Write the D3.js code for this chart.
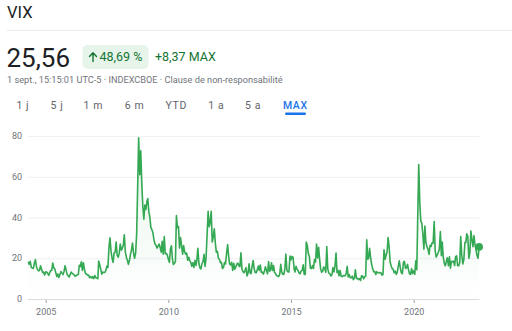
<!DOCTYPE html>
<html><head><meta charset="utf-8">
<script src="https://cdn.jsdelivr.net/npm/d3@7"></script>
<style>
html,body{margin:0;padding:0;background:#fff;}
svg{display:block;font-family:Roboto,"Noto Sans",Arial,sans-serif;}
</style></head>
<body>
<svg id="c" width="512" height="331"></svg>
<script>
// Semi-monthly closes (1st and 16th of each month)
const vix2004 = [18.3,17.0,18.5,15.5,15.2,15.0,17.5,19.3,16.0,14.5,13.8,14.0,16.3,14.6,13.0,13.2,11.8]; // from Apr 16
const vix2005 = [13.3,13.2,12.5,11.6,12.9,14.0,14.0,17.7,15.3,14.8,12.8,11.0,12.3,10.5,12.0,13.5,12.7,12.0,13.5,16.3,14.2,12.0,11.5,10.8];
const vix2006 = [12.1,13.2,12.5,12.2,11.8,11.2,11.5,11.9,12.0,16.5,16.0,18.3,14.0,17.8,14.5,12.5,12.3,11.7,11.8,10.5,11.0,10.3,11.0,10.0];
const vix2007 = [11.5,10.5,10.4,10.0,18.6,16.8,14.6,12.2,13.2,13.0,13.1,14.0,16.2,15.5,25.5,30.0,23.4,20.0,18.0,22.5,23.0,28.0,21.5,20.5];
const vix2008 = [22.5,27.0,24.0,25.0,26.5,31.5,23.0,20.5,19.0,17.0,19.0,22.0,24.0,27.5,22.5,20.0,22.6,32.1,55.0,79.1,61.0,72.7,57.0,46.0];
const vix2009 = [39.2,46.1,44.0,48.0,49.3,43.0,40.0,35.0,34.0,32.6,29.0,27.0,26.4,25.0,25.9,27.0,25.3,23.0,28.3,22.0,30.7,22.2,22.4,21.6];
const vix2010 = [19.5,18.0,24.6,26.1,20.0,16.9,17.5,18.4,40.9,35.0,35.5,25.0,30.1,26.3,22.0,26.2,23.0,22.0,22.5,19.0,20.5,18.8,18.0,16.1];
const vix2011 = [17.8,15.5,19.0,16.5,19.0,24.9,17.4,15.3,14.8,17.4,18.3,21.9,16.0,20.0,32.0,43.0,35.5,38.0,43.0,28.0,30.5,34.5,27.5,23.0];
const vix2012 = [23.4,20.0,19.4,17.8,18.0,15.0,15.5,17.9,17.2,22.3,26.7,21.1,17.1,16.7,18.0,14.0,17.5,14.6,15.7,17.1,17.6,16.4,15.9,22.7];
const vix2013 = [14.6,13.4,12.9,14.1,15.4,11.3,12.7,17.3,12.9,12.4,16.3,18.9,14.9,13.0,12.9,14.4,16.2,14.0,16.7,13.0,13.2,12.2,13.8,15.8];
const vix2014 = [13.8,12.4,18.4,13.6,14.0,17.8,14.0,16.4,13.0,12.4,11.4,11.4,11.0,12.1,17.0,13.2,12.1,12.1,14.6,22.0,14.0,13.3,13.3,21.1];
const vix2015 = [19.2,20.9,20.4,14.7,13.3,16.0,14.7,13.9,12.7,12.4,13.8,14.0,16.8,12.1,12.1,28.0,26.1,22.3,20.9,15.1,15.0,16.4,15.0,19.4];
const vix2016 = [18.2,27.0,20.2,25.4,19.7,14.9,13.1,13.6,15.7,15.2,13.1,25.8,14.8,12.7,12.4,11.3,11.9,15.4,13.3,16.1,22.5,12.9,14.1,11.4];
const vix2017 = [14.0,11.2,11.0,11.5,11.5,11.3,12.4,16.0,10.8,12.0,10.4,10.4,11.2,9.5,10.3,14.3,10.1,10.2,9.5,10.0,9.1,11.4,11.3,9.9];
const vix2018 = [11.0,11.3,29.1,19.5,20.0,24.9,20.0,16.9,14.8,13.4,13.5,12.0,13.4,12.9,12.8,13.0,12.9,11.7,12.1,24.2,19.5,21.5,23.2,30.1];
const vix2019 = [25.4,18.0,16.1,14.9,14.6,12.9,13.7,12.1,13.1,16.0,18.7,15.3,12.9,12.4,18.0,18.5,15.0,15.3,17.0,14.3,12.3,12.1,14.9,12.5];
const vix2020 = [13.8,12.1,18.8,14.4,40.1,66.0,46.8,38.2,37.2,31.9,24.5,35.8,27.7,25.7,24.5,21.9,26.4,25.8,27.6,27.4,38.0,23.7,20.6,21.6];
const vix2021 = [22.8,24.3,33.1,21.3,27.9,20.7,17.3,16.3,18.6,20.2,16.4,20.7,15.1,18.5,18.2,18.6,16.4,20.8,21.2,16.3,16.3,17.9,30.7,21.6];
const vix2022 = [17.2,19.2,27.7,27.8,32.0,30.8,20.0,22.7,33.4,29.4,25.7,31.1,26.7,24.2,21.3,20.0,25.56];

const yTicks = [0,20,40,60,80];
const xTickYears = [2005,2010,2015,2020];
const tabs = ["1 j","5 j","1 m","6 m","YTD","1 a","5 a","MAX"];
const title = "VIX";
const price = "25,56";
const changePct = "48,69 %";
const changeAbs = "+8,37 MAX";
const subtitle = "1 sept., 15:15:01 UTC-5 · INDEXCBOE · Clause de non-responsabilité";

const yearArrays = [
  [2004,vix2004,7],[2005,vix2005,0],[2006,vix2006,0],[2007,vix2007,0],[2008,vix2008,0],
  [2009,vix2009,0],[2010,vix2010,0],[2011,vix2011,0],[2012,vix2012,0],[2013,vix2013,0],
  [2014,vix2014,0],[2015,vix2015,0],[2016,vix2016,0],[2017,vix2017,0],[2018,vix2018,0],
  [2019,vix2019,0],[2020,vix2020,0],[2021,vix2021,0],[2022,vix2022,0]
];
const data = [];
yearArrays.forEach(([yr, arr, off]) => {
  arr.forEach((v, k) => {
    const i = k + off;
    data.push({date: new Date(yr, Math.floor(i/2), i%2 ? 16 : 1), value: v});
  });
});

const svg = d3.select("#c");
const green = "#34a853";
const textDark = "#202124";
const textGray = "#70757a";

// Header
svg.append("text").attr("x",7).attr("y",18.3).attr("font-size",16.5).attr("fill",textDark).text(title);
svg.append("line").attr("x1",7).attr("x2",512).attr("y1",30.5).attr("y2",30.5).attr("stroke","#e8eaed").attr("stroke-width",1);
svg.append("text").attr("x",6.5).attr("y",66.5).attr("font-size",26).attr("fill",textDark).text(price);
svg.append("rect").attr("x",82.5).attr("y",45).attr("width",66).attr("height",24).attr("rx",5).attr("fill","#e6f4ea");
// up arrow
svg.append("path").attr("d","M93,61.5 V53 M89.5,56.5 L93,52.8 L96.5,56.5")
  .attr("fill","none").attr("stroke","#137333").attr("stroke-width",1.4).attr("stroke-linecap","round").attr("stroke-linejoin","round");
svg.append("text").attr("x",99.5).attr("y",61).attr("font-size",12.5).attr("fill","#137333").text(changePct);
svg.append("text").attr("x",155).attr("y",61).attr("font-size",12.5).attr("fill","#137333").text(changeAbs);
svg.append("text").attr("x",7).attr("y",83).attr("font-size",9.2).attr("fill",textGray).text(subtitle);

// Tabs
const tabCenters = [22.8,57,93.3,134.5,176.3,216.2,253,295.3];
tabs.forEach((t,i) => {
  svg.append("text").attr("x",tabCenters[i]).attr("y",109.3).attr("text-anchor","middle")
    .attr("font-size",10.5).attr("letter-spacing",0.6)
    .attr("font-weight", t==="MAX" ? 500 : 400)
    .attr("fill", t==="MAX" ? "#1a73e8" : "#5f6368").text(t);
});
svg.append("rect").attr("x",285).attr("y",112.5).attr("width",21).attr("height",2.5).attr("rx",1.2).attr("fill","#1a73e8");

// Scales
const x = d3.scaleTime().domain([new Date(2005,0,1), new Date(2020,0,1)]).range([45.7, 413.7]);
const y = d3.scaleLinear().domain([0,80]).range([299,136]);
const xLeft = 28, xRight = 479.5;

// Grid
svg.append("g").selectAll("line").data(yTicks.filter(d=>d>0)).join("line")
  .attr("x1",xLeft).attr("x2",xRight).attr("y1",d=>y(d)+0.5).attr("y2",d=>y(d)+0.5)
  .attr("stroke","#eef0f2").attr("stroke-width",1);
svg.append("g").selectAll("text").data(yTicks).join("text")
  .attr("x",22).attr("y",d=>y(d)+3.2).attr("text-anchor","end").attr("font-size",9).attr("fill",textGray).text(d=>d);

// X axis
const xAxis = d3.axisBottom(x).tickValues(xTickYears.map(yv=>new Date(yv,0,1))).tickFormat(d3.timeFormat("%Y")).tickSize(4).tickSizeOuter(0);
const gx = svg.append("g").attr("transform","translate(0,299)").call(xAxis);
gx.select(".domain").remove();
gx.selectAll(".tick line").attr("stroke","#9aa0a6");
gx.selectAll(".tick text").attr("fill",textGray).attr("font-size",9).attr("dy","0.95em").attr("font-family","Roboto,Arial,sans-serif");
svg.append("line").attr("x1",xLeft).attr("x2",xRight).attr("y1",299.5).attr("y2",299.5).attr("stroke","#dadce0");

// Area gradient
const defs = svg.append("defs");
const grad = defs.append("linearGradient").attr("id","g1").attr("gradientUnits","userSpaceOnUse")
  .attr("x1",0).attr("x2",0).attr("y1",136).attr("y2",299);
grad.append("stop").attr("offset","0%").attr("stop-color",green).attr("stop-opacity",0.13);
grad.append("stop").attr("offset","100%").attr("stop-color",green).attr("stop-opacity",0.0);

svg.append("path").datum(data)
  .attr("d", d3.area().x(d=>x(d.date)).y0(299).y1(d=>y(d.value)))
  .attr("fill","url(#g1)");
svg.append("path").datum(data)
  .attr("d", d3.line().x(d=>x(d.date)).y(d=>y(d.value)))
  .attr("fill","none").attr("stroke",green).attr("stroke-width",1.6).attr("stroke-linejoin","round");

const last = data[data.length-1];
svg.append("circle").attr("cx",x(last.date)).attr("cy",y(last.value)).attr("r",3.8).attr("fill",green);
</script>
</body></html>
